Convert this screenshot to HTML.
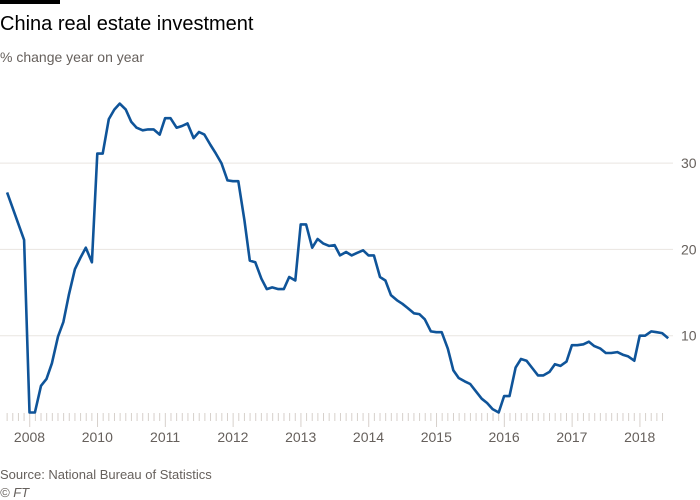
<!DOCTYPE html>
<html><head><meta charset="utf-8"><style>
body{margin:0;background:#fff;width:700px;height:500px;overflow:hidden;font-family:"Liberation Sans",sans-serif}
svg{position:absolute;left:0;top:0}
</style></head><body>
<svg id="c" width="700" height="500">
<rect x="0" y="0" width="60" height="4" fill="#000"/>
<text x="0" y="30" font-size="20" fill="#000">China real estate investment</text>
<text x="0" y="62" font-size="14" fill="#66605c">% change year on year</text>
<text x="0" y="479" font-size="13" fill="#66605c">Source: National Bureau of Statistics</text>
<text x="0" y="497" font-size="13" font-style="italic" fill="#66605c">© FT</text>
<g id="grid"></g><g id="axis"></g><g id="series"></g>
</svg>
<script>
const dates=[2008.67,2008.92,2009.0,2009.08,2009.17,2009.25,2009.33,2009.42,2009.5,2009.58,2009.67,2009.75,2009.83,2009.92,2010.0,2010.08,2010.17,2010.25,2010.33,2010.42,2010.5,2010.58,2010.67,2010.75,2010.83,2010.92,2011.0,2011.08,2011.17,2011.25,2011.33,2011.42,2011.5,2011.58,2011.67,2011.75,2011.83,2011.92,2012.0,2012.08,2012.17,2012.25,2012.33,2012.42,2012.5,2012.58,2012.67,2012.75,2012.83,2012.92,2013.0,2013.08,2013.17,2013.25,2013.33,2013.42,2013.5,2013.58,2013.67,2013.75,2013.83,2013.92,2014.0,2014.08,2014.17,2014.25,2014.33,2014.42,2014.5,2014.58,2014.67,2014.75,2014.83,2014.92,2015.0,2015.08,2015.17,2015.25,2015.33,2015.42,2015.5,2015.58,2015.67,2015.75,2015.83,2015.92,2016.0,2016.08,2016.17,2016.25,2016.33,2016.42,2016.5,2016.58,2016.67,2016.75,2016.83,2016.92,2017.0,2017.08,2017.17,2017.25,2017.33,2017.42,2017.5,2017.58,2017.67,2017.75,2017.83,2017.92,2018.0,2018.08,2018.17,2018.25,2018.33,2018.42];
const values=[26.6,21.1,1.1,1.1,4.2,5.0,6.8,9.9,11.6,14.7,17.7,19.0,20.2,18.5,31.1,31.1,35.1,36.2,36.9,36.2,34.8,34.1,33.8,33.9,33.9,33.3,35.2,35.2,34.1,34.3,34.6,32.9,33.6,33.3,32.1,31.1,30.0,28.0,27.9,27.9,23.4,18.7,18.5,16.6,15.4,15.6,15.4,15.4,16.8,16.4,22.9,22.9,20.2,21.2,20.7,20.4,20.5,19.3,19.7,19.3,19.6,19.9,19.3,19.3,16.8,16.4,14.7,14.1,13.7,13.2,12.6,12.5,11.9,10.5,10.4,10.4,8.5,6.0,5.1,4.7,4.4,3.6,2.7,2.2,1.5,1.1,3.0,3.0,6.3,7.3,7.1,6.2,5.4,5.4,5.8,6.7,6.5,7.0,8.9,8.9,9.0,9.3,8.8,8.5,8.0,8.0,8.1,7.8,7.6,7.1,10.0,10.0,10.5,10.4,10.3,9.7];
const yTicks=[10,20,30];
const yearTicks=[2009,2010,2011,2012,2013,2014,2015,2016,2017,2018];
const yearLabels=["2008","2010","2011","2012","2013","2014","2015","2016","2017","2018"];
const NS="http://www.w3.org/2000/svg";
const x=t=>29.5+(t-2009)*67.8;
const y=v=>422-v*8.63;
function mk(tag,attrs,parent){const e=document.createElementNS(NS,tag);for(const k in attrs)e.setAttribute(k,attrs[k]);parent.appendChild(e);return e;}
const grid=document.getElementById('grid'),axis=document.getElementById('axis'),series=document.getElementById('series');
yTicks.forEach(v=>{
 const l=mk('line',{x1:0,x2:673,y1:y(v),y2:y(v),stroke:'#e9e5e1','stroke-width':1},grid);
 
 
 const t=mk('text',{x:681,y:y(v)+5,'font-size':14,fill:'#66605c'},grid);
 t.textContent=v;
 
 
});
for(let m=0;m<=116;m++){
 const t=2008.67+m/12; const px=x(t);
 if(px<6||px>670)continue;
 const isYear=Math.abs(t-Math.round(t))<0.02;
 const tk=mk('line',{x1:px,x2:px,y1:413,y2:isYear?427:421,stroke:'#d6d0cb','stroke-width':1},axis);
 
 
}
yearLabels.forEach((lab,i)=>{
 const t=mk('text',{x:x(yearTicks[i]),y:442,'font-size':14,fill:'#66605c','text-anchor':'middle'},axis);
 t.textContent=lab;
 
 
});
const d=dates.map((t,i)=>(i?'L':'M')+x(t).toFixed(1)+','+y(values[i]).toFixed(1)).join('');
const p=mk('path',{d:d,fill:'none',stroke:'#0f5499','stroke-width':2.6,'stroke-linejoin':'round'},series);


</script>
</body></html>
